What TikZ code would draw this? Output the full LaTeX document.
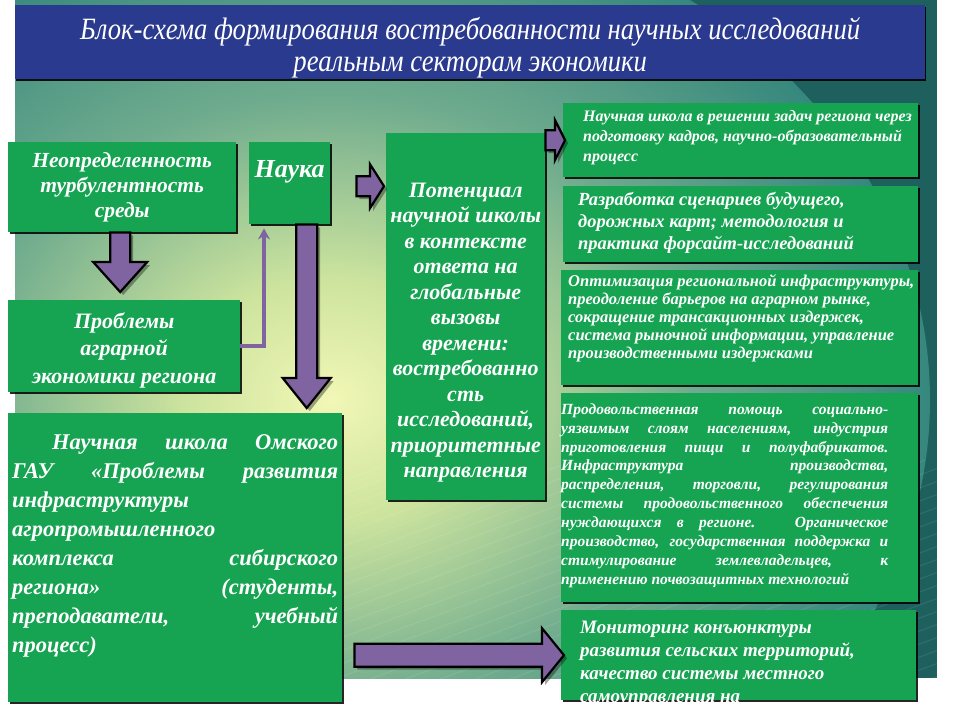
\documentclass[tikz,border=0pt]{standalone}
\usepackage{fontspec}
\setmainfont{Liberation Serif}
\newfontfamily\titlefont[FakeStretch=0.86]{Liberation Serif}
\usetikzlibrary{calc,shadows,arrows.meta}
\definecolor{boxgreen}{RGB}{22,163,82}
\definecolor{titleblue}{RGB}{42,58,142}
\definecolor{arrowpurple}{RGB}{128,100,162}
\definecolor{bg0}{RGB}{242,247,182}
\definecolor{bg1}{RGB}{205,228,158}
\definecolor{bg2}{RGB}{112,172,142}
\definecolor{bg3}{RGB}{42,128,122}
\definecolor{bg4}{RGB}{30,96,94}
\pgfdeclareradialshading{bgshade}{\pgfpoint{0bp}{0bp}}{color(0bp)=(bg0); color(6bp)=(bg1); color(15bp)=(bg2); color(27bp)=(bg3); color(42bp)=(bg4); color(50bp)=(bg4)}
\newcommand\fs[2]{\fontsize{#1pt}{#2pt}\selectfont}
\newcommand\cl[1]{\makebox[\linewidth][c]{#1}}
\newcommand\jl[1]{\makebox[\linewidth][s]{#1}}
% right block arrow: start, end, shaft half, head half, head length
\newcommand\rarrow[5]{\draw[barrow] ($(#1)+(0,-#3)$) -- ($(#2)+(-#5,-#3)$) -- ($(#2)+(-#5,-#4)$) -- (#2) -- ($(#2)+(-#5,#4)$) -- ($(#2)+(-#5,#3)$) -- ($(#1)+(0,#3)$) -- cycle;}
% down block arrow
\newcommand\darrow[5]{\draw[barrow] ($(#1)+(-#3,0)$) -- ($(#2)+(-#3,-#5)$) -- ($(#2)+(-#4,-#5)$) -- (#2) -- ($(#2)+(#4,-#5)$) -- ($(#2)+(#3,-#5)$) -- ($(#1)+(#3,0)$) -- cycle;}
\begin{document}
\begin{tikzpicture}[x=1pt,y=-1pt,
  gbox/.style={fill=boxgreen, inner sep=0pt, anchor=north west, text=white, font=\bfseries\itshape,
    drop shadow={shadow xshift=2pt, shadow yshift=-2pt, fill=black, opacity=0.85}},
  barrow/.style={fill=arrowpurple, draw=black, line width=2.2pt, line join=miter,
    drop shadow={shadow xshift=3pt, shadow yshift=-3pt, fill=black, opacity=0.35}},
  thinarrow/.style={draw=arrowpurple, line width=4pt, -{Stealth[length=11pt,width=12pt]}}]
\useasboundingbox (0,0) rectangle (960,720);
\fill[white] (0,0) rectangle (960,720);
\begin{scope}
  \clip (15,0) rectangle (937,678);
  \fill[bg4] (15,0) rectangle (937,678);
  \shade[shading=bgshade] (330,400) ellipse (600pt and 500pt);
  \foreach \i in {0,...,40} \draw[white, opacity=0.08, line width=1.2pt] (-300+\i*35,720) -- ++(700,-260);
\end{scope}

% title
\node[fill=titleblue, anchor=north west, inner sep=0pt, text=white,
  drop shadow={shadow xshift=1pt, shadow yshift=-2pt, fill=black, opacity=0.9}] (title) at (15,5)
  {\parbox[c][74pt][t]{910pt}{\centering\titlefont\itshape\fs{31}{32}\rule{0pt}{34pt}Блок-схема формирования востребованности научных исследований\\реальным секторам экономики}};

% left column
\node[gbox] (b1) at (8,142) {\parbox[c][90pt][t]{228pt}{\centering\fs{21.5}{25}\rule{0pt}{25pt}Неопределенность\\турбулентность\\среды}};
\node[gbox] (nauka) at (249,142) {\parbox[c][82pt][t]{81pt}{\centering\fs{26}{30}\rule{0pt}{35pt}Наука}};
\node[gbox] (b2) at (8,300) {\parbox[c][92pt][t]{232pt}{\centering\fs{22}{27.5}\rule{0pt}{28pt}Проблемы\\аграрной\\экономики региона}};
\node[gbox, inner xsep=4pt] (big) at (8,413) {\parbox[c][289pt][t]{326pt}{\raggedright\fs{22.5}{29}\rule{0pt}{36pt}\hspace*{40pt}\makebox[286pt][s]{Научная школа Омского}\\
\jl{ГАУ «Проблемы развития}\\
инфраструктуры\\
агропромышленного\\
\jl{комплекса сибирского}\\
\jl{региона» (студенты,}\\
\jl{преподаватели, учебный}\\
процесс)}};

% middle
\node[gbox] (pot) at (386,133) {\parbox[c][367pt][t]{159pt}{\centering\fs{22}{25.5}\rule{0pt}{64pt}\cl{Потенциал}\\\cl{научной школы}\\\cl{в контексте}\\\cl{ответа на}\\\cl{глобальные}\\\cl{вызовы}\\\cl{времени:}\\\cl{востребованно}\\\cl{сть}\\\cl{исследований,}\\\cl{приоритетные}\\\cl{направления}}};

% right column
\node[gbox, inner xsep=0pt] (r1) at (563,103) {\parbox[c][74pt][t]{355pt}{\raggedright\leftskip=20pt\fs{16}{20}\rule{0pt}{18pt}Научная школа в решении задач региона через\\подготовку кадров, научно-образовательный\\процесс}};
\node[gbox] (r2) at (563,186) {\parbox[c][76pt][t]{355pt}{\raggedright\leftskip=15pt\fs{18.5}{22}\rule{0pt}{19pt}Разработка сценариев будущего,\\дорожных карт; методология и\\практика форсайт-исследований}};
\node[gbox] (r3) at (561,270) {\parbox[c][115pt][t]{357pt}{\raggedright\leftskip=7pt\fs{16.5}{18}\rule{0pt}{16pt}Оптимизация региональной инфраструктуры,\\преодоление барьеров на аграрном рынке,\\сокращение трансакционных издержек,\\система рыночной информации, управление\\производственными издержками}};
\node[gbox] (r4) at (561,393) {\parbox[c][209pt][t]{357pt}{\raggedright\fs{15.5}{18.9}\rule{0pt}{21pt}\makebox[327pt][s]{Продовольственная помощь социально-}\\
\makebox[327pt][s]{уязвимым слоям населениям, индустрия}\\
\makebox[327pt][s]{приготовления пищи и полуфабрикатов.}\\
\makebox[327pt][s]{Инфраструктура производства,}\\
\makebox[327pt][s]{распределения, торговли, регулирования}\\
\makebox[327pt][s]{системы продовольственного обеспечения}\\
\makebox[327pt][s]{нуждающихся в регионе. Органическое}\\
\makebox[327pt][s]{производство, государственная поддержка и}\\
\makebox[327pt][s]{стимулирование землевладельцев, к}\\
применению почвозащитных технологий}};
\node[gbox] (r5) at (561,610) {\parbox[c][90pt][t]{355pt}{\raggedright\leftskip=19pt\fs{19}{23}\rule{0pt}{23pt}Мониторинг конъюнктуры\\развития сельских территорий,\\качество системы местного\\самоуправления на}};

% block arrows
\coordinate (a1s) at ($(b1.south)+(-2,0)$);
\coordinate (a1e) at ($(a1s |- b2.north)+(0,-8)$);
\darrow{a1s}{a1e}{10}{27}{30}
\coordinate (a2s) at ($(nauka.south)+(17,0)$);
\coordinate (a2e) at ($(a2s |- big.north)+(0,-5)$);
\darrow{a2s}{a2e}{10.5}{24}{30}
\coordinate (a3s) at ($(nauka.east)+(26,3)$);
\coordinate (a3e) at ($(a3s -| pot.west)+(-2,0)$);
\rarrow{a3s}{a3e}{10}{22}{14}
\coordinate (a4s) at ($(pot.east |- r1.west)+(0,0)$);
\coordinate (a4e) at ($(r1.west)+(2,0)$);
\rarrow{a4s}{a4e}{10}{20}{10}
\coordinate (a5s) at ($(big.east |- r5.west)+(12,0)$);
\coordinate (a5e) at ($(r5.west)+(3,0)$);
\rarrow{a5s}{a5e}{11.5}{27}{22}

% thin elbow arrow
\draw[thinarrow] (b2.east) -| ($(nauka.south west)+(15,4)$);
\end{tikzpicture}
\end{document}
